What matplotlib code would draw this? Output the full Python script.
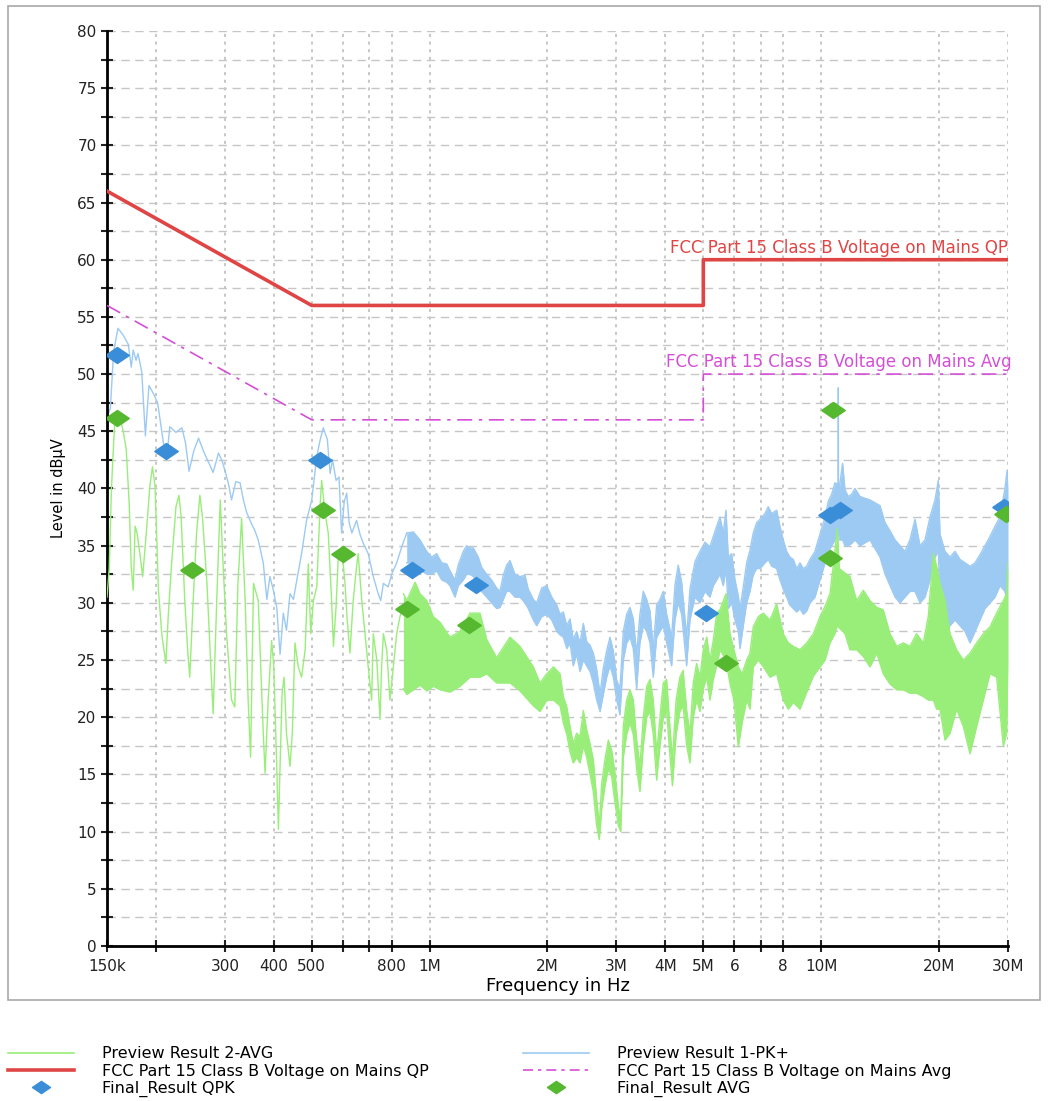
import matplotlib
matplotlib.use("Agg")
import matplotlib.pyplot as plt
from matplotlib.lines import Line2D
from matplotlib.patches import Rectangle
from matplotlib.ticker import FixedLocator, NullLocator, MultipleLocator

plt.rcParams['font.family'] = ['DejaVu Sans']

# ---- data (frequency in MHz, level in dBuV) ----
# Preview Result 1-PK+, low band drawn as a single trace
pk_line_f = [0.150, 0.151, 0.153, 0.156, 0.160, 0.165, 0.170, 0.173, 0.175, 0.178,
             0.180, 0.184, 0.188, 0.192, 0.197, 0.202, 0.209, 0.213, 0.217, 0.225,
             0.233, 0.238, 0.243, 0.250, 0.257, 0.265, 0.280, 0.289, 0.296, 0.306,
             0.312, 0.320, 0.328, 0.335, 0.341, 0.350, 0.358, 0.365, 0.376, 0.384,
             0.391, 0.399, 0.407, 0.415, 0.423, 0.431, 0.440, 0.449, 0.458, 0.471,
             0.485, 0.500, 0.515, 0.525, 0.535, 0.548, 0.557, 0.565, 0.577, 0.587,
             0.596, 0.605, 0.614, 0.623, 0.633, 0.651, 0.664, 0.677, 0.697, 0.718,
             0.739, 0.750, 0.762, 0.784, 0.800, 0.824, 0.849, 0.874]
pk_line_v = [31.0, 46.5, 47.0, 52.0, 54.0, 53.4, 52.6, 50.6, 52.1, 51.2,
             51.8, 50.2, 44.6, 49.0, 48.3, 47.5, 44.0, 42.5, 45.4, 44.9,
             45.3, 44.0, 41.5, 43.3, 44.4, 43.2, 41.4, 43.1, 42.3, 40.5,
             39.0, 40.6, 40.5, 38.9, 37.9, 37.0, 36.3, 35.5, 33.5, 30.3,
             32.3, 31.1, 29.6, 25.5, 29.1, 27.6, 30.8, 30.3, 32.0, 34.3,
             37.2, 39.0, 42.8, 44.2, 45.3, 44.3, 41.3, 42.5, 40.7, 41.0,
             36.1, 38.8, 39.6, 37.0, 36.1, 37.2, 36.0, 35.2, 34.3, 32.3,
             30.8, 30.2, 31.7, 31.4, 32.5, 33.5, 34.9, 36.1]

# PK+ above ~0.87 MHz is a dense band: lower / upper edge
pk_band_f = [0.874, 0.909, 0.945, 0.983, 1.012, 1.042, 1.074, 1.106, 1.127, 1.161,
             1.183, 1.219, 1.243, 1.268, 1.293, 1.331, 1.358, 1.399, 1.440, 1.483,
             1.512, 1.542, 1.573, 1.604, 1.652, 1.701, 1.752, 1.786, 1.840, 1.877,
             1.933, 1.991, 2.051, 2.112, 2.153, 2.195, 2.240, 2.283, 2.327, 2.374,
             2.421, 2.469, 2.518, 2.568, 2.618, 2.671, 2.724, 2.777, 2.832, 2.888,
             2.945, 3.005, 3.063, 3.123, 3.186, 3.248, 3.312, 3.378, 3.444, 3.513,
             3.584, 3.654, 3.725, 3.800, 3.875, 3.951, 4.030, 4.150, 4.231, 4.314,
             4.402, 4.533, 4.622, 4.760, 4.902, 5.048, 5.199, 5.301, 5.409, 5.515,
             5.623, 5.713, 5.791, 5.907, 6.024, 6.142, 6.203, 6.325, 6.452, 6.578,
             6.707, 6.842, 6.975, 7.183, 7.325, 7.473, 7.695, 7.847, 8.000, 8.162,
             8.321, 8.485, 8.657, 8.826, 8.999, 9.184, 9.362, 9.641, 9.830, 10.03,
             10.23, 10.43, 10.64, 10.84, 11.05, 11.06, 11.07, 11.13, 11.34, 11.50,
             11.72, 11.96, 12.20, 12.56, 13.32, 14.13, 14.56, 14.99, 15.44, 15.89,
             16.36, 16.85, 17.36, 17.88, 18.41, 18.96, 19.53, 19.91, 20.11, 20.71,
             21.33, 21.96, 22.62, 23.30, 23.99, 24.71, 25.44, 26.20, 26.98, 27.79,
             28.61, 29.46, 29.85, 30.0]
pk_band_lo = [33.5, 33.5, 32.9, 32.5, 32.5, 32.8, 32.0, 31.8, 31.5, 30.5,
              31.5, 32.0, 32.5, 32.5, 32.3, 31.5, 31.0, 30.5, 30.0, 29.5,
              29.6, 30.3, 31.0, 31.0, 30.5, 30.5, 30.0, 29.5, 28.5, 28.0,
              28.8, 29.0, 28.5, 27.5, 27.2, 27.0, 26.0, 26.5, 24.5, 25.5,
              24.0, 25.0, 24.5, 24.0, 23.0, 21.5, 20.5, 22.0, 23.5, 24.5,
              23.5, 21.5, 20.2, 25.0, 26.5, 27.0, 26.0, 22.5, 26.5, 28.0,
              27.5, 26.5, 23.5, 27.0, 27.5, 28.0, 26.5, 24.5, 28.5, 30.0,
              29.0, 24.5, 28.5, 30.5, 30.0, 31.0, 30.5, 31.5, 32.0, 32.5,
              31.5, 33.0, 29.5, 30.0, 28.5, 27.5, 26.0, 28.0, 30.0, 31.0,
              32.5, 33.0, 33.0, 33.5, 33.8, 33.2, 33.0, 32.0, 31.2, 30.5,
              29.8, 29.5, 29.2, 29.5, 29.0, 29.3, 30.0, 30.5, 31.5, 32.5,
              33.5, 34.5, 35.0, 35.5, 36.0, 36.0, 36.0, 35.5, 35.5, 35.0,
              35.0, 35.2, 35.5, 35.0, 35.5, 34.0, 32.5, 31.5, 30.5, 30.0,
              30.5, 31.0, 31.0, 30.0, 30.5, 32.0, 34.0, 34.5, 30.5, 27.5,
              28.0, 28.5, 28.0, 27.5, 26.5, 27.5, 28.5, 29.5, 30.0, 30.5,
              31.5, 31.0, 30.0, 33.0]
pk_band_hi = [36.1, 36.2, 35.5, 34.5, 34.0, 34.3, 33.5, 33.4, 32.8, 32.0,
              33.3, 34.5, 35.0, 34.8, 34.8, 34.0, 33.1, 32.5, 32.0, 31.3,
              31.0, 32.4, 33.3, 33.7, 32.5, 32.3, 32.4, 31.2, 30.3, 30.0,
              31.3, 31.5, 30.5, 29.8, 29.0, 29.2, 28.0, 28.6, 26.8, 27.5,
              26.5, 28.2, 26.6, 26.3, 25.6, 24.2, 22.0, 24.3, 25.8, 27.0,
              25.8, 23.2, 22.5, 27.5, 29.0, 29.6, 28.6, 25.5, 29.0, 31.0,
              30.3, 29.3, 26.0, 29.8, 30.3, 31.0, 29.0, 27.0, 31.5, 33.3,
              31.8, 27.0, 31.2, 33.6, 34.5, 35.3, 34.9, 35.8, 36.7, 37.5,
              36.1, 38.1, 34.0, 34.3, 32.0, 30.6, 29.5, 31.4, 33.5, 34.6,
              36.1, 37.0, 37.3, 37.8, 38.4, 37.8, 38.1, 36.7, 35.5, 34.5,
              34.0, 33.8, 33.0, 33.5, 33.0, 33.2, 33.8, 34.5, 35.5, 36.5,
              37.5, 38.9, 39.5, 40.5, 40.3, 48.8, 40.3, 40.1, 42.2, 39.9,
              39.3, 39.5, 40.0, 39.3, 39.0, 38.5, 37.0, 36.3, 35.5, 35.0,
              34.5, 35.5, 37.3, 35.0, 35.5, 37.5, 39.0, 40.7, 36.0, 34.5,
              34.0, 34.5, 33.8, 33.5, 33.2, 33.5, 34.2, 35.0, 35.8, 36.7,
              37.5, 40.0, 41.6, 40.0]

# Preview Result 2-AVG, low band trace
av_line_f = [0.150, 0.152, 0.154, 0.157, 0.162, 0.165, 0.168, 0.171, 0.173, 0.175,
             0.177, 0.179, 0.182, 0.185, 0.189, 0.193, 0.196, 0.199, 0.203, 0.207,
             0.212, 0.215, 0.219, 0.225, 0.229, 0.232, 0.237, 0.241, 0.244, 0.249,
             0.254, 0.259, 0.263, 0.270, 0.275, 0.280, 0.286, 0.292, 0.297, 0.303,
             0.312, 0.318, 0.324, 0.331, 0.338, 0.344, 0.349, 0.355, 0.365, 0.376,
             0.380, 0.387, 0.395, 0.400, 0.407, 0.411, 0.415, 0.420, 0.425, 0.431,
             0.440, 0.446, 0.453, 0.462, 0.471, 0.481, 0.490, 0.497, 0.505, 0.515,
             0.525, 0.530, 0.541, 0.551, 0.562, 0.568, 0.577, 0.585, 0.596, 0.608,
             0.616, 0.626, 0.638, 0.651, 0.657, 0.671, 0.684, 0.697, 0.711, 0.718,
             0.733, 0.747, 0.754, 0.762, 0.777, 0.792, 0.808, 0.824, 0.840, 0.857]
av_line_v = [30.5, 33.0, 40.0, 46.0, 46.2, 45.0, 43.4, 38.5, 33.1, 31.1,
             36.7, 36.1, 34.3, 32.3, 36.1, 40.2, 41.9, 40.2, 31.1, 27.3,
             24.7, 28.8, 33.1, 38.4, 39.4, 37.5, 30.2, 25.9, 23.5, 30.2,
             36.1, 39.4, 37.5, 31.7, 25.9, 20.3, 30.2, 39.0, 33.2, 27.3,
             21.5, 20.9, 31.7, 37.4, 30.2, 21.5, 16.5, 31.7, 30.2, 18.6,
             15.1, 21.5, 26.7, 24.4, 15.7, 10.2, 15.7, 22.1, 23.5, 18.6,
             15.7, 18.6, 26.5, 24.4, 23.5, 25.9, 33.4, 27.3, 30.2, 31.4,
             38.4, 40.7, 37.8, 36.1, 30.2, 26.2, 29.7, 34.3, 34.9, 31.7,
             28.5, 25.6, 30.2, 33.2, 34.3, 30.2, 27.3, 24.4, 21.5, 27.3,
             25.0, 19.8, 24.4, 27.3, 25.9, 21.5, 24.4, 27.3, 28.8, 29.7]

# AVG above ~0.86 MHz: lower / upper edge of the band
av_band_f = [0.857, 0.874, 0.918, 0.945, 0.983, 1.022, 1.063, 1.127, 1.195, 1.268,
             1.345, 1.399, 1.483, 1.604, 1.701, 1.840, 1.914, 1.991, 2.071, 2.153,
             2.195, 2.240, 2.283, 2.327, 2.374, 2.421, 2.469, 2.518, 2.568, 2.618,
             2.671, 2.712, 2.751, 2.804, 2.860, 2.917, 2.975, 3.034, 3.076, 3.123,
             3.186, 3.248, 3.312, 3.378, 3.444, 3.513, 3.584, 3.654, 3.725, 3.800,
             3.875, 3.951, 4.030, 4.090, 4.170, 4.260, 4.356, 4.440, 4.533, 4.622,
             4.713, 4.807, 4.902, 4.998, 5.100, 5.199, 5.301, 5.409, 5.515, 5.713,
             5.850, 5.985, 6.142, 6.280, 6.452, 6.578, 6.707, 6.910, 7.116, 7.400,
             7.695, 8.000, 8.240, 8.485, 8.826, 9.184, 9.550, 9.930, 10.23, 10.53,
             10.84, 10.99, 11.13, 11.50, 11.84, 12.32, 12.81, 13.32, 13.86, 14.40,
             14.99, 15.59, 16.20, 16.85, 17.52, 18.23, 18.77, 19.33, 19.72, 20.11,
             20.71, 21.33, 22.17, 23.06, 23.99, 24.95, 25.94, 26.98, 28.06, 29.18,
             29.76, 30.0]
av_band_lo = [22.5, 22.0, 22.5, 22.8, 22.3, 22.7, 22.4, 22.2, 22.7, 23.5,
              23.5, 23.8, 23.0, 23.0, 22.3, 21.0, 20.5, 21.5, 21.5, 21.0,
              19.5, 18.5, 17.0, 16.0, 16.5, 16.0, 17.5, 16.5, 15.0, 13.5,
              10.5, 9.3, 12.0, 14.0, 15.5, 14.8, 12.5, 10.5, 10.0, 16.5,
              18.5, 19.5, 18.5, 15.5, 13.5, 17.5, 20.0, 20.5, 18.5, 14.5,
              17.5, 20.0, 20.5, 17.5, 14.0, 18.5, 20.5, 21.0, 17.5, 16.0,
              20.0, 21.5, 20.5, 22.5, 23.5, 21.5, 23.3, 24.5, 25.9, 25.0,
              22.9, 21.5, 17.4, 19.5, 21.5, 20.7, 24.4, 25.0, 24.4, 23.5,
              23.8, 21.5, 20.7, 21.3, 20.7, 22.2, 23.6, 24.4, 25.0, 26.5,
              27.3, 28.0, 27.8, 27.3, 25.9, 25.9, 25.3, 24.4, 25.6, 23.8,
              22.9, 22.4, 22.4, 22.1, 22.1, 21.8, 21.5, 21.5, 20.7, 20.7,
              18.0, 18.6, 20.7, 19.2, 16.8, 19.2, 21.5, 23.8, 23.5, 17.5,
              18.6, 24.4]
av_band_hi = [30.8, 30.2, 31.8, 30.8, 30.2, 28.8, 28.3, 27.0, 27.5, 29.1,
              29.1, 26.8, 25.2, 27.0, 26.2, 24.4, 23.0, 23.8, 24.4, 23.8,
              21.8, 20.9, 19.2, 17.7, 18.6, 18.3, 20.6, 18.9, 17.7, 16.3,
              12.8, 10.5, 14.2, 16.3, 18.0, 17.1, 15.1, 12.2, 11.0, 19.2,
              21.5, 22.4, 21.5, 18.0, 15.7, 20.0, 22.7, 23.3, 21.5, 16.8,
              20.0, 23.0, 23.3, 20.0, 16.3, 21.5, 23.5, 24.1, 20.6, 18.6,
              23.0, 24.7, 23.5, 25.9, 27.0, 25.0, 26.7, 29.1, 29.4, 30.8,
              27.3, 25.9, 24.4, 23.8, 25.0, 25.6, 27.9, 28.8, 29.1, 28.5,
              29.9, 27.3, 26.5, 26.2, 25.9, 26.5, 27.3, 28.8, 29.7, 30.8,
              34.5, 36.5, 33.0, 32.6, 32.3, 30.2, 31.1, 30.2, 29.6, 29.4,
              27.3, 26.2, 26.5, 26.2, 27.3, 26.5, 28.8, 34.3, 33.2, 31.7,
              30.2, 27.3, 25.9, 25.0, 25.6, 26.5, 27.3, 27.9, 29.1, 30.2,
              30.8, 33.5]

# limit lines
qp_lim_f = [0.15, 0.5, 5.0, 5.0, 30.0]
qp_lim_v = [66, 56, 56, 60, 60]
av_lim_f = [0.15, 0.5, 5.0, 5.0, 30.0]
av_lim_v = [56, 46, 46, 50, 50]

# final results
qpk_f = [0.159, 0.212, 0.525, 0.902, 1.314, 5.07, 10.54, 11.20, 29.3]
qpk_v = [51.7, 43.3, 42.5, 32.9, 31.6, 29.1, 37.7, 38.1, 38.4]
avg_f = [0.159, 0.248, 0.535, 0.601, 0.877, 1.261, 5.70, 10.54, 10.74, 29.6]
avg_v = [46.2, 32.9, 38.1, 34.3, 29.5, 28.1, 24.7, 33.9, 46.9, 37.8]

x_ticks = [0.15, 0.2, 0.3, 0.4, 0.5, 0.6, 0.7, 0.8, 1, 2, 3, 4, 5, 6, 7, 8, 10, 20, 30]
x_labels = ['150k', '', '300', '400', '500', '', '', '800', '1M', '2M', '3M', '4M',
            '5M', '6', '', '8', '10M', '20M', '30M']

c_pk = '#9ccaf2'
c_av = '#98ee78'
c_qp = '#e04545'
c_avl = '#d44fd6'
c_qpk = '#3a8ed8'
c_avg = '#55b82e'

diamond = [(-1, 0), (0, 0.68), (1, 0), (0, -0.68), (-1, 0)]

fig = plt.figure(figsize=(10.51, 11.01), dpi=100)
ax = fig.add_axes([0.1018, 0.1408, 0.8573, 0.8311])

# spectra
ax.plot(pk_line_f, pk_line_v, color=c_pk, lw=1.0, zorder=2)
ax.fill_between(pk_band_f, pk_band_lo, pk_band_hi, color=c_pk, lw=0, zorder=2)
ax.plot(pk_band_f, pk_band_hi, color=c_pk, lw=1.0, zorder=2)
ax.plot(pk_band_f, pk_band_lo, color=c_pk, lw=1.0, zorder=2)

ax.plot(av_line_f, av_line_v, color=c_av, lw=1.0, zorder=3)
ax.fill_between(av_band_f, av_band_lo, av_band_hi, color=c_av, lw=0, zorder=3)
ax.plot(av_band_f, av_band_hi, color=c_av, lw=1.0, zorder=3)
ax.plot(av_band_f, av_band_lo, color=c_av, lw=1.0, zorder=3)

# limits
ax.plot(qp_lim_f, qp_lim_v, color=c_qp, lw=2.6, zorder=4)
ax.plot(av_lim_f, av_lim_v, color=c_avl, lw=1.2, dashes=(9, 4, 2, 4), zorder=4)
ax.text(30, 60.25, 'FCC Part 15 Class B Voltage on Mains QP', color=c_qp,
        fontsize=12, ha='right', va='bottom', zorder=5)
ax.text(30.6, 50.25, 'FCC Part 15 Class B Voltage on Mains Avg', color=c_avl,
        fontsize=12, ha='right', va='bottom', zorder=5)

# final results
ax.plot(qpk_f, qpk_v, ls='none', marker=diamond, ms=17, mfc=c_qpk, mec=c_qpk, zorder=6)
ax.plot(avg_f, avg_v, ls='none', marker=diamond, ms=17, mfc=c_avg, mec=c_avg, zorder=6)

ax.set_xscale('log')
ax.set_xlim(0.15, 30)
ax.set_ylim(0, 80)
ax.xaxis.set_major_locator(FixedLocator(x_ticks))
ax.xaxis.set_minor_locator(NullLocator())
ax.set_xticklabels(x_labels)
ax.yaxis.set_major_locator(MultipleLocator(5))
ax.yaxis.set_minor_locator(MultipleLocator(2.5))

for s in ['top', 'right']:
    ax.spines[s].set_visible(False)
for s in ['left', 'bottom']:
    ax.spines[s].set_linewidth(2)
ax.tick_params(axis='both', which='both', direction='inout', length=9, width=1.5,
               labelsize=11, colors='#222222')
ax.tick_params(axis='x', pad=5)
ax.tick_params(axis='y', pad=3)

ax.yaxis.grid(True, which='both', color='#c6c6c6', lw=1, dashes=(6, 4))
ax.xaxis.grid(True, which='major', color='#b8b8b8', lw=1.1, dashes=(2, 3))
ax.set_axisbelow(True)

ax.set_xlabel('Frequency in Hz', fontsize=13, labelpad=2)
ax.set_ylabel('Level in dBµV', fontsize=10.5, labelpad=8)

# outer frame
fig.add_artist(Rectangle((8 / 1051, 1 - 1000 / 1101), 1032 / 1051, 994 / 1101,
                         transform=fig.transFigure, fill=False, ec='#a8a8a8', lw=1.2))

# legend, two columns
h1 = [Line2D([], [], color=c_av, lw=1.2),
      Line2D([], [], color=c_qp, lw=2.6),
      Line2D([], [], ls='none', marker=diamond, ms=13, color=c_qpk)]
l1 = ['Preview Result 2-AVG', 'FCC Part 15 Class B Voltage on Mains QP', 'Final_Result QPK']
h2 = [Line2D([], [], color=c_pk, lw=1.2),
      Line2D([], [], color=c_avl, lw=1.2, dashes=(6, 3, 2, 3)),
      Line2D([], [], ls='none', marker=diamond, ms=13, color=c_avg)]
l2 = ['Preview Result 1-PK+', 'FCC Part 15 Class B Voltage on Mains Avg', 'Final_Result AVG']
fig.legend(h1, l1, loc='upper left', bbox_to_anchor=(0.008, 0.0497), frameon=False,
           fontsize=11.5, handlelength=4.1, handletextpad=1.75, labelspacing=0.15,
           borderpad=0, borderaxespad=0)
fig.legend(h2, l2, loc='upper left', bbox_to_anchor=(0.498, 0.0497), frameon=False,
           fontsize=11.5, handlelength=4.1, handletextpad=1.75, labelspacing=0.15,
           borderpad=0, borderaxespad=0)

fig.savefig('out.png', dpi=100)
